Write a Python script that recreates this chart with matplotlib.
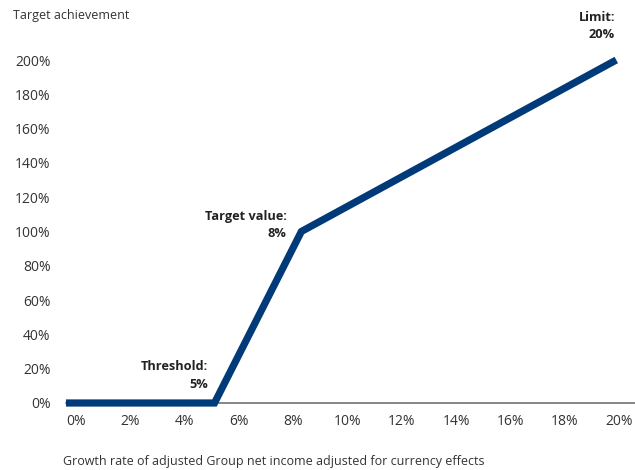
#Target achievement curve for growth rate of adjusted net income.
import matplotlib
matplotlib.use('Agg')
import matplotlib.pyplot as plt

growth = [-0.37, 5.1, 8.3, 19.9]
achievement = [0, 0, 100, 200]
x_ticks = list(range(0, 21, 2))
y_ticks = list(range(0, 201, 20))
notes = [('Threshold:\n5%', 4.85, 7), ('Target value:\n8%', 7.75, 95), ('Limit:\n20%', 19.85, 211)]

plt.rcParams['font.family'] = ['Open Sans', 'DejaVu Sans']
fig = plt.figure(figsize=(6.35, 4.70), dpi=100)
ax = fig.add_axes([66/635, 1 - 403/470, 1 - 66/635, (403 - 60)/470])

ax.plot(growth, achievement, color='#003a78', linewidth=5.2, solid_joinstyle='miter',
        solid_capstyle='butt', clip_on=False, zorder=3)

ax.set_xlim(-0.37, 20.59)
ax.set_ylim(0, 200)
ax.set_xticks(x_ticks)
ax.set_xticklabels([f'{t}%' for t in x_ticks])
ax.set_yticks(y_ticks)
ax.set_yticklabels([f'{t}%' for t in y_ticks])
ax.tick_params(axis='both', length=0, labelsize=10, labelcolor='#333333')
ax.tick_params(axis='y', pad=11)
ax.tick_params(axis='x', pad=8)
for s in ['top', 'right', 'left']:
    ax.spines[s].set_visible(False)
ax.spines['bottom'].set_color('#666666')
ax.spines['bottom'].set_linewidth(1.1)

for txt, x, y in notes:
    ax.text(x, y, txt, ha='right', va='bottom', fontsize=9.2, fontweight='bold',
            color='#222222', linespacing=1.45)

fig.text(13/635, 1 - 16/470, 'Target achievement', fontsize=9, color='#333333', va='center')
fig.text(63/635, 1 - 461/470, 'Growth rate of adjusted Group net income adjusted for currency effects',
         fontsize=9, color='#333333', va='center')

plt.savefig('out.png', dpi=100)
